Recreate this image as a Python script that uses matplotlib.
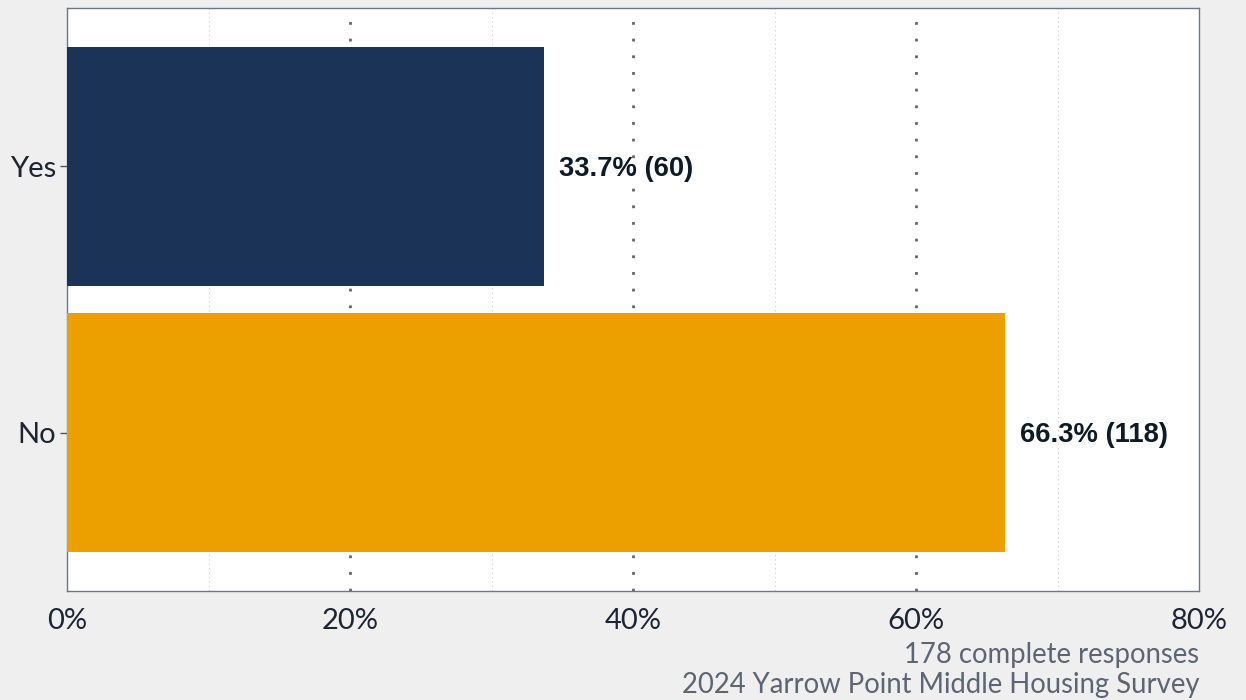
import matplotlib.pyplot as plt
from matplotlib.ticker import MultipleLocator, FuncFormatter

# data
categories = ['No', 'Yes']
percents = [66.3, 33.7]
counts = [118, 60]
bar_colors = ['#eba000', '#1c3358']
caption_lines = ['178 complete responses', '2024 Yarrow Point Middle Housing Survey']

bg = '#efefef'
fig = plt.figure(figsize=(12.46, 7), dpi=100)
fig.patch.set_facecolor(bg)
ax = fig.add_axes([67 / 1246, 1 - 591 / 700, (1199 - 67) / 1246, (591 - 8) / 700])
ax.set_facecolor('white')

ypos = [1, 2]
ax.barh(ypos, percents, height=0.9, color=bar_colors, zorder=3)

for y, p, n in zip(ypos, percents, counts):
    ax.annotate(f'{p:.1f}% ({n})', xy=(p, y), xytext=(11, -2), textcoords='offset points',
                ha='left', va='center', fontsize=19.7, fontweight='bold',
                family='Liberation Sans', color='#0d1b26', zorder=4)

ax.set_xlim(0, 80)
ax.set_ylim(0.405, 2.595)
ax.xaxis.set_major_locator(MultipleLocator(20))
ax.xaxis.set_major_formatter(FuncFormatter(lambda v, _: f'{v:.0f}%'))
ax.set_yticks(ypos)
ax.set_yticklabels(categories)

# grid lines (inner only, dotted like the original theme)
for gx in [20, 40, 60]:
    ax.axvline(gx, linestyle=(0, (1, 5)), linewidth=2, color='#666666', zorder=1)
for gx in [10, 30, 50, 70]:
    ax.axvline(gx, linestyle=(0, (1, 3)), linewidth=0.8, color='#cccccc', zorder=1)

for s in ax.spines.values():
    s.set_color('#6b7785')
    s.set_linewidth(1.0)

ax.tick_params(axis='x', which='both', length=0, pad=12, labelsize=21, labelcolor='#1c2533')
ax.tick_params(axis='y', length=5, width=1, color='#555555', pad=3, labelsize=21, labelcolor='#1c2533')
for lab in ax.get_xticklabels() + ax.get_yticklabels():
    lab.set_family('Lato')

fig.text(1199 / 1246, 1 - 655 / 700, caption_lines[0], ha='right', va='center',
         fontsize=19.8, family='Lato', color='#5b6573')
fig.text(1199 / 1246, 1 - 685 / 700, caption_lines[1], ha='right', va='center',
         fontsize=19.8, family='Lato', color='#5b6573')

plt.savefig('out.png', dpi=100, facecolor=bg)
